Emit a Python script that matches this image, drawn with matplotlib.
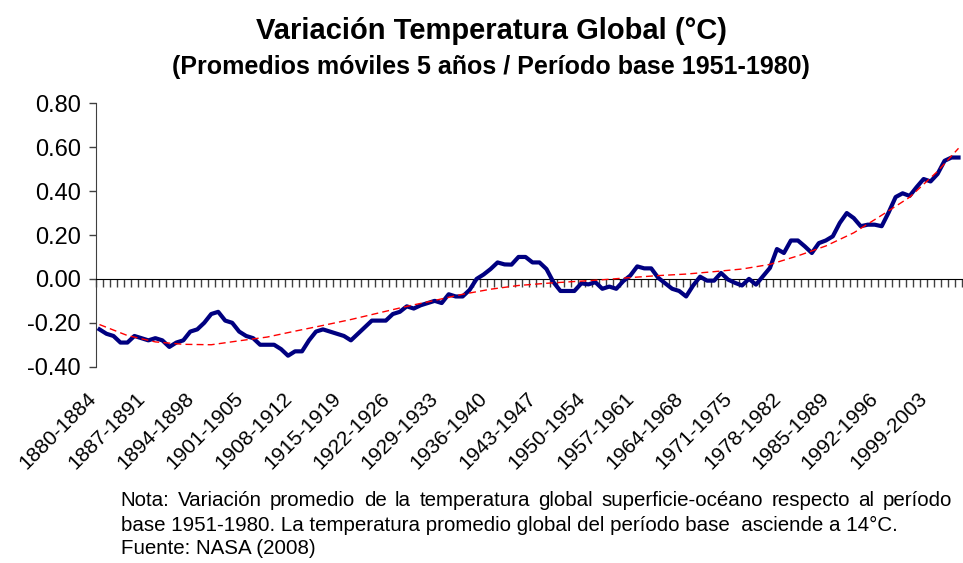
import matplotlib
matplotlib.use("Agg")
import matplotlib.pyplot as plt
import matplotlib.transforms as mtransforms
import numpy as np

plt.rcParams["font.family"] = ["Liberation Sans", "DejaVu Sans"]

# ── Data ───────────────────────────────────────────────────────────────
START_YEARS = list(range(1880, 2004))
CATEGORIES = [f"{y}-{y + 4}" for y in START_YEARS]

# 5-year moving average anomaly (°C)
ANOMALY = [
    -0.23, -0.25, -0.26, -0.29, -0.29, -0.26, -0.27, -0.28, -0.27, -0.28,
    -0.31, -0.29, -0.28, -0.24, -0.23, -0.20, -0.16, -0.15, -0.19, -0.20,
    -0.24, -0.26, -0.27, -0.30, -0.30, -0.30, -0.32, -0.35, -0.33, -0.33,
    -0.28, -0.24, -0.23, -0.24, -0.25, -0.26, -0.28, -0.25, -0.22, -0.19,
    -0.19, -0.19, -0.16, -0.15, -0.125, -0.135, -0.12, -0.11, -0.10, -0.11,
    -0.07, -0.08, -0.08, -0.05, 0.00, 0.02, 0.045, 0.075, 0.066, 0.065,
    0.10, 0.10, 0.075, 0.075, 0.045, -0.015, -0.055, -0.055, -0.055, -0.02,
    -0.025, -0.015, -0.045, -0.035, -0.045, -0.01, 0.015, 0.057, 0.048, 0.048,
    0.005, -0.02, -0.045, -0.055, -0.08, -0.03, 0.01, -0.008, -0.008, 0.027,
    -0.003, -0.018, -0.03, 0.00, -0.026, 0.012, 0.05, 0.136, 0.118, 0.175,
    0.175, 0.148, 0.118, 0.163, 0.175, 0.194, 0.255, 0.30, 0.277, 0.24,
    0.247, 0.247, 0.24, 0.303, 0.373, 0.39, 0.378, 0.418, 0.455, 0.444,
    0.478, 0.538, 0.553, 0.553,
]

# polynomial trend line as drawn in the chart, sampled at these category indices
TREND_IDX = [0, 4, 8, 12, 16, 20, 24, 28, 32, 36, 40, 44, 48, 52, 56, 60,
             64, 68, 72, 76, 80, 84, 88, 92, 96, 100, 104, 108, 112, 116, 120, 123]
TREND_VAL = [-0.208, -0.258, -0.287, -0.298, -0.300, -0.282, -0.265, -0.238,
             -0.212, -0.185, -0.155, -0.125, -0.098, -0.070, -0.047, -0.030,
             -0.020, -0.012, -0.004, 0.006, 0.015, 0.022, 0.033, 0.045,
             0.066, 0.105, 0.150, 0.210, 0.290, 0.372, 0.490, 0.595]

Y_TICKS = [-0.40, -0.20, 0.00, 0.20, 0.40, 0.60, 0.80]
LABEL_EVERY = 7

TITLE = "Variación Temperatura Global (°C)"
SUBTITLE = "(Promedios móviles 5 años / Período base 1951-1980)"
NOTE_1 = ("Nota: Variación promedio de la temperatura global superficie-océano "
          "respecto al período")
NOTE_2 = "base 1951-1980. La temperatura promedio global del período base  asciende a 14°C."
NOTE_3 = "Fuente: NASA (2008)"

# ── Figure ─────────────────────────────────────────────────────────────
W, H = 963, 563
fig = plt.figure(figsize=(W / 100, H / 100), dpi=100)
ax = fig.add_axes([96 / W, 1 - 366.7 / H, (962 - 96) / W, (366.7 - 103.3) / H])

n = len(ANOMALY)
x = np.arange(n)
ax.plot(x, ANOMALY, color="#000080", lw=3.0, solid_joinstyle="round", zorder=3)
ax.plot(TREND_IDX, TREND_VAL, color="#FF0000", lw=1.0, ls=(0, (5, 3)), zorder=4)

ax.set_xlim(-0.5, n - 0.5)
ax.set_ylim(-0.40, 0.80)

for side in ("top", "right"):
    ax.spines[side].set_visible(False)
ax.spines["left"].set_color("#404040")
ax.spines["bottom"].set_position(("data", 0))
ax.spines["bottom"].set_color("black")

ax.set_yticks(Y_TICKS)
ax.set_yticklabels([f"{v:.2f}" for v in Y_TICKS])
ax.tick_params(axis="y", direction="out", length=5, width=1, color="#404040",
               labelsize=17, pad=6)

ax.set_xticks(np.arange(n + 1) - 0.5)
ax.set_xticklabels([])
ax.tick_params(axis="x", direction="out", length=6, width=1, color="#404040")

trans = mtransforms.blended_transform_factory(ax.transData, ax.transAxes)
for i in range(0, n, LABEL_EVERY):
    ax.text(i - 0.9, -0.11, CATEGORIES[i], transform=trans, rotation=45,
            ha="right", va="center", rotation_mode="anchor", fontsize=15)

fig.text(0.51, 1 - 31 / H, TITLE, ha="center", va="center", fontsize=21,
         fontweight="bold")
fig.text(0.51, 1 - 67 / H, SUBTITLE, ha="center", va="center", fontsize=18,
         fontweight="bold")

# note: first line justified between left and right margins
left_px, right_px = 120.5, 952.0
words = NOTE_1.split(" ")
renderer = fig.canvas.get_renderer()
items = [fig.text(0, 1 - 501 / H, w, ha="left", va="center", fontsize=14.75)
         for w in words]
widths = [t.get_window_extent(renderer).width for t in items]
gap = (right_px - left_px - sum(widths)) / (len(words) - 1)
pos = left_px
for t, w in zip(items, widths):
    t.set_x(pos / W)
    pos += w + gap
fig.text(left_px / W, 1 - 525 / H, NOTE_2, ha="left", va="center", fontsize=14.75)
fig.text(left_px / W, 1 - 549 / H, NOTE_3, ha="left", va="center", fontsize=14.75)

fig.savefig("out.png", dpi=100)
